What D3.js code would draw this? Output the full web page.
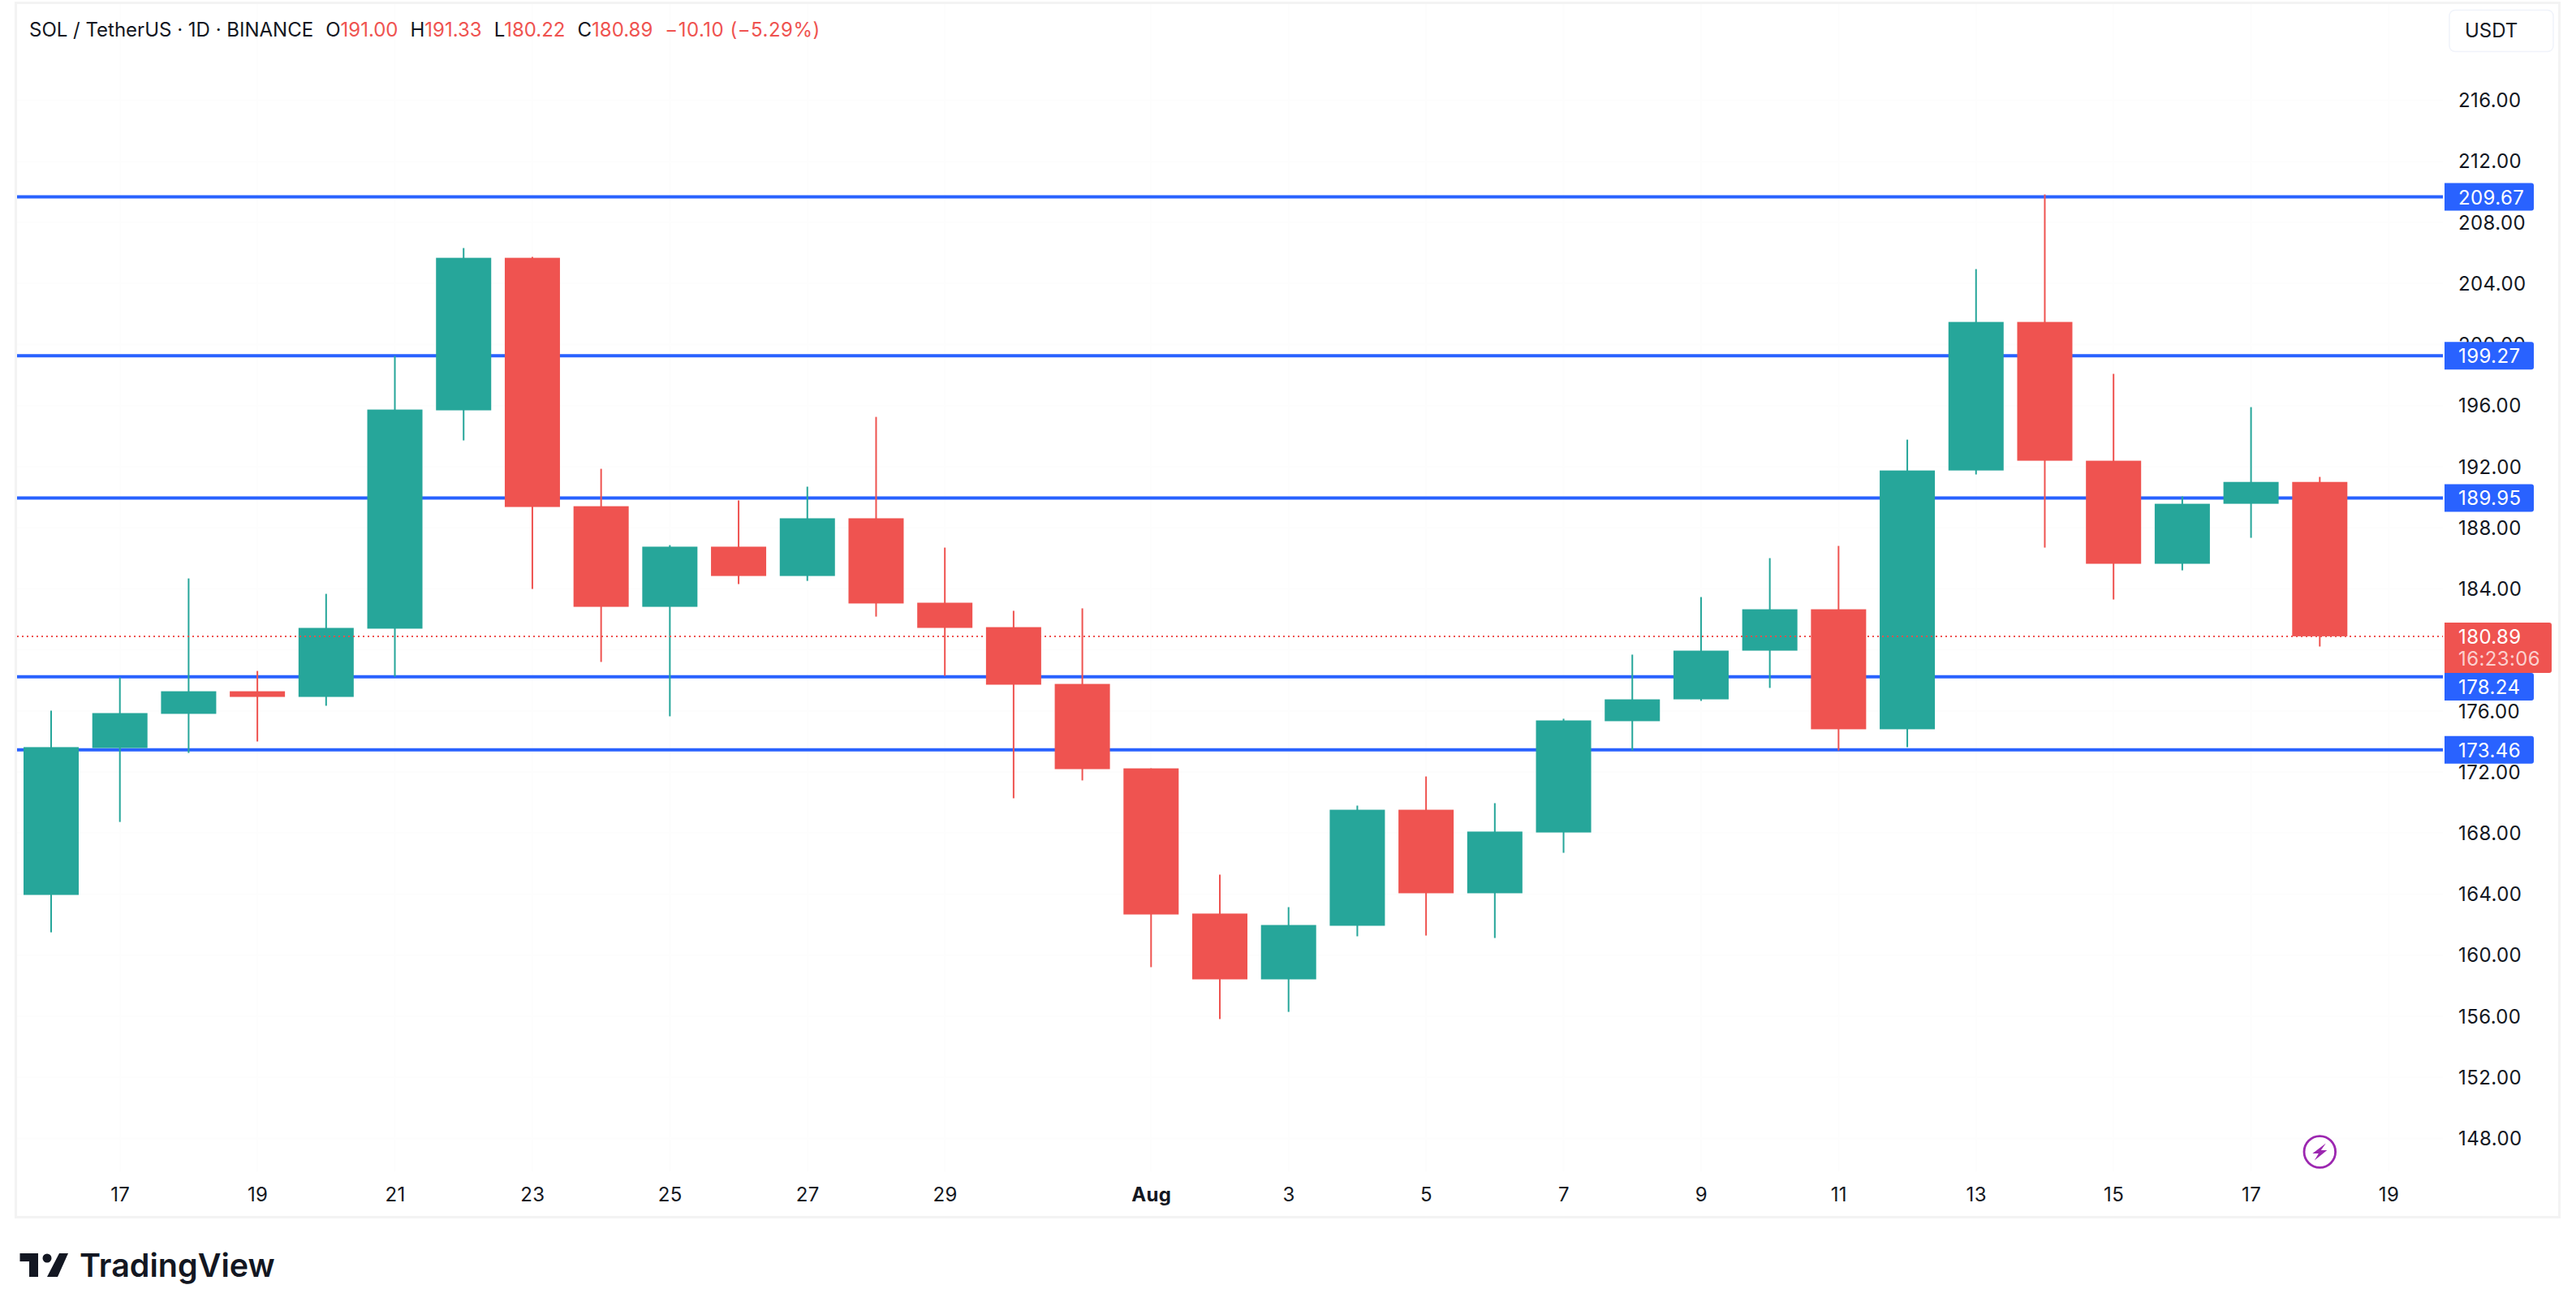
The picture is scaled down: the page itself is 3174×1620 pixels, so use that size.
<!DOCTYPE html>
<html>
<head>
<meta charset="utf-8">
<script src="https://cdn.jsdelivr.net/npm/d3@7"></script>
<style>
  html, body { margin: 0; padding: 0; background: #fff; }
  text { font-family: Inter, "Noto Sans", sans-serif; fill: #131722; }
  .tick text { font-size: 24px; letter-spacing: 0.4px; }
  .tick line, .domain { display: none; }
</style>
</head>
<body>
<div id="canvas"></div>
<script>
/*
 * Chart values
 *
 */
const dates = [
  '2025-07-16', '2025-07-17', '2025-07-18', '2025-07-19', '2025-07-20', '2025-07-21', '2025-07-22',
  '2025-07-23', '2025-07-24', '2025-07-25', '2025-07-26', '2025-07-27', '2025-07-28', '2025-07-29',
  '2025-07-30', '2025-07-31', '2025-08-01', '2025-08-02', '2025-08-03', '2025-08-04', '2025-08-05',
  '2025-08-06', '2025-08-07', '2025-08-08', '2025-08-09', '2025-08-10', '2025-08-11', '2025-08-12',
  '2025-08-13', '2025-08-14', '2025-08-15', '2025-08-16', '2025-08-17', '2025-08-18'
];
const opens = [
  163.95, 173.57, 175.81, 177.29, 176.92, 181.39, 195.69,
  205.68, 189.41, 182.82, 186.76, 184.84, 188.62, 183.09,
  181.49, 177.77, 172.24, 162.73, 158.42, 161.93, 169.53,
  164.06, 168.04, 175.33, 176.76, 179.95, 182.66, 174.80,
  191.75, 201.48, 192.39, 185.64, 189.57, 191.00
];
const highs = [
  176.02, 178.20, 184.68, 178.62, 183.67, 199.25, 206.32,
  205.74, 191.86, 186.86, 189.79, 190.69, 195.26, 186.70,
  182.56, 182.72, 172.24, 165.28, 163.15, 169.80, 171.71,
  169.96, 175.49, 179.69, 183.46, 186.01, 186.81, 193.77,
  204.94, 209.83, 198.08, 190.05, 195.90, 191.33
];
const lows = [
  161.50, 168.73, 173.25, 174.00, 176.34, 178.25, 193.72,
  183.99, 179.21, 175.65, 184.31, 184.52, 182.18, 178.30,
  170.28, 171.45, 159.22, 155.82, 156.29, 161.24, 161.29,
  161.13, 166.71, 173.41, 176.66, 177.51, 173.41, 173.63,
  191.49, 186.70, 183.30, 185.21, 187.34, 180.22
];
const closes = [
  173.63, 175.86, 177.29, 176.92, 181.44, 195.74, 205.68,
  189.36, 182.82, 186.76, 184.84, 188.62, 183.04, 181.44,
  177.72, 172.19, 162.67, 158.42, 161.98, 169.53, 164.06,
  168.10, 175.38, 176.76, 179.95, 182.66, 174.80, 191.75,
  201.48, 192.39, 185.64, 189.57, 191.00, 180.89
];
const levels = [209.67, 199.27, 189.95, 178.24, 173.46];
const priceTicks = [216, 212, 208, 204, 200, 196, 192, 188, 184, 180, 176, 172, 168, 164, 160, 156, 152, 148];
const dateTicks = [
  '2025-07-17', '2025-07-19', '2025-07-21', '2025-07-23', '2025-07-25', '2025-07-27', '2025-07-29',
  '2025-08-01', '2025-08-03', '2025-08-05', '2025-08-07', '2025-08-09', '2025-08-11', '2025-08-13',
  '2025-08-15', '2025-08-17', '2025-08-19'
];
const lastPrice = 180.89;
const countdown = '16:23:06';
const headerTitle = 'SOL / TetherUS · 1D · BINANCE';
const headerChange = '−10.10 (−5.29%)';

const color = {
  up: '#26a69a',
  down: '#ef5350',
  level: '#2962ff',
  frame: '#f3f3f3',
  grid: '#fdfdfd',
  ink: '#131722',
  bolt: '#9c27b0'
};
const svgWidth = 3174,
  svgHeight = 1620,
  plotLeft = 21,
  plotRight = 3010,
  bodyWidth = 68;

const parseDay = d3.utcParse('%Y-%m-%d');

/*
 * Scales
 *
 */
const xScale = d3.scaleUtc()
  .domain([parseDay('2025-07-16'), parseDay('2025-08-19')])
  .range([63, 2943]);

const yScale = d3.scaleLinear()
  .domain([216, 148])
  .range([123.5, 1402.5]);

const candles = dates.map((d, i) => ({
  date: parseDay(d),
  open: opens[i],
  high: highs[i],
  low: lows[i],
  close: closes[i]
}));
const candleColor = (d) => d.close >= d.open ? color.up : color.down;

const svg = d3.select('#canvas').append('svg')
  .attr('width', svgWidth)
  .attr('height', svgHeight)
  .style('display', 'block');

// outer frame
svg.append('rect')
  .attr('x', 19.5)
  .attr('y', 3.5)
  .attr('width', 3134)
  .attr('height', 1496)
  .attr('fill', 'none')
  .attr('stroke', color.frame)
  .attr('stroke-width', 3);

// very faint grid
svg.append('g').selectAll('line')
  .data(dateTicks)
  .enter().append('line')
  .attr('x1', (d) => xScale(parseDay(d)))
  .attr('x2', (d) => xScale(parseDay(d)))
  .attr('y1', 5)
  .attr('y2', 1443)
  .attr('stroke', color.grid)
  .attr('stroke-width', 2);
svg.append('g').selectAll('line')
  .data(priceTicks)
  .enter().append('line')
  .attr('x1', plotLeft)
  .attr('x2', plotRight)
  .attr('y1', (d) => yScale(d))
  .attr('y2', (d) => yScale(d))
  .attr('stroke', color.grid)
  .attr('stroke-width', 2);

/*
 * Axes
 *
 */
svg.append('g')
  .attr('transform', `translate(3012,0.5)`)
  .call(d3.axisRight(yScale).tickValues(priceTicks).tickSize(0).tickPadding(17).tickFormat(d3.format('.2f')));

const timeAxis = svg.append('g')
  .attr('transform', `translate(0,1448)`)
  .call(d3.axisBottom(xScale)
    .tickValues(dateTicks.map(parseDay))
    .tickSize(0)
    .tickPadding(15)
    .tickFormat((d) => d.getUTCDate() === 1 ? d3.utcFormat('%b')(d) : d.getUTCDate()));
timeAxis.selectAll('text')
  .style('font-weight', (d) => d.getUTCDate() === 1 ? 700 : 400);

/*
 * Horizontal levels sit under the candles
 *
 */
svg.append('g').selectAll('line')
  .data(levels)
  .enter().append('line')
  .attr('x1', plotLeft)
  .attr('x2', plotRight)
  .attr('y1', (d) => yScale(d))
  .attr('y2', (d) => yScale(d))
  .attr('stroke', color.level)
  .attr('stroke-width', 4);

/*
 * Candles
 *
 */
const candleGroup = svg.append('g');
candleGroup.selectAll('.wick')
  .data(candles)
  .enter().append('rect')
  .attr('class', 'wick')
  .attr('x', (d) => xScale(d.date) - 1)
  .attr('width', 2)
  .attr('y', (d) => yScale(d.high))
  .attr('height', (d) => yScale(d.low) - yScale(d.high))
  .attr('fill', candleColor);
candleGroup.selectAll('.body')
  .data(candles)
  .enter().append('rect')
  .attr('class', 'body')
  .attr('x', (d) => xScale(d.date) - bodyWidth / 2)
  .attr('width', bodyWidth)
  .attr('y', (d) => yScale(Math.max(d.open, d.close)))
  .attr('height', (d) => Math.abs(yScale(d.open) - yScale(d.close)))
  .attr('fill', candleColor);

// dotted last price line goes over the candles
svg.append('line')
  .attr('x1', plotLeft)
  .attr('x2', plotRight)
  .attr('y1', yScale(lastPrice))
  .attr('y2', yScale(lastPrice))
  .attr('stroke', color.down)
  .attr('stroke-width', 2)
  .attr('stroke-dasharray', '2 4');

/*
 * Price labels on the right, the 178.24 one gets pushed down by the red one
 *
 */
function rightRounded(x, y, w, h, r) {
  return `M${x},${y}H${x + w - r}Q${x + w},${y} ${x + w},${y + r}V${y + h - r}Q${x + w},${y + h} ${x + w - r},${y + h}H${x}Z`;
}

const lastY = yScale(lastPrice);
svg.append('path')
  .attr('d', rightRounded(3012, lastY - 17, 132, 62, 3))
  .attr('fill', color.down);
svg.append('text')
  .attr('x', 3029)
  .attr('y', lastY + 9)
  .style('font-size', '24px')
  .style('letter-spacing', '0.4px')
  .style('fill', '#fff')
  .text(d3.format('.2f')(lastPrice));
svg.append('text')
  .attr('x', 3029)
  .attr('y', lastY + 36)
  .style('font-size', '24px')
  .style('letter-spacing', '0.4px')
  .style('fill', '#fbd0cf')
  .text(countdown);

const levelLabel = svg.append('g').selectAll('g')
  .data(levels)
  .enter().append('g')
  .attr('transform', (d) => {
    const y = yScale(d);
    // keep clear of the red label
    const c = (y > lastY && y - 17 < lastY + 45) ? lastY + 45 + 17 : y;
    return `translate(3012,${c})`;
  });
levelLabel.append('path')
  .attr('d', rightRounded(0, -17, 110, 34, 3))
  .attr('fill', color.level);
levelLabel.append('text')
  .attr('x', 17)
  .attr('y', 9)
  .style('font-size', '24px')
  .style('letter-spacing', '0.4px')
  .style('fill', '#fff')
  .text(d3.format('.2f'));

/*
 * Header
 *
 */
const last = candles[candles.length - 1];
const f2 = d3.format('.2f');
const header = svg.append('text')
  .attr('x', 36)
  .attr('y', 45)
  .style('font-size', '24px');
header.append('tspan').text(headerTitle);
[['O', last.open], ['H', last.high], ['L', last.low], ['C', last.close]].forEach((item) => {
  header.append('tspan').attr('dx', 15).text(item[0]);
  header.append('tspan').style('fill', color.down).text(f2(item[1]));
});
header.append('tspan').attr('dx', 15).style('fill', color.down).style('letter-spacing', '0.5px').text(headerChange);

// USDT box
svg.append('rect')
  .attr('x', 3018)
  .attr('y', 12.5)
  .attr('width', 128)
  .attr('height', 51)
  .attr('rx', 7)
  .attr('fill', '#fff')
  .attr('stroke', '#f0f3fa')
  .attr('stroke-width', 1.5);
svg.append('text')
  .attr('x', 3037)
  .attr('y', 46)
  .style('font-size', '24px')
  .text('USDT');

/*
 * Lightning badge under the last candle
 *
 */
const badge = svg.append('g')
  .attr('transform', `translate(${xScale(last.date)},1419)`);
badge.append('circle')
  .attr('r', 19.3)
  .attr('fill', '#fff')
  .attr('stroke', color.bolt)
  .attr('stroke-width', 2.8);
badge.append('path')
  .attr('d', 'M7.5,-10.5L-9,2H-1.5L-6.5,10.5L9,-2H1.5Z')
  .attr('fill', color.bolt);

/*
 * TradingView logo
 *
 */
const logo = svg.append('g').attr('fill', color.ink);
logo.append('path').attr('d', 'M24.5,1544H47V1573H36V1554H24.5Z');
logo.append('circle').attr('cx', 58).attr('cy', 1550).attr('r', 5.5);
logo.append('path').attr('d', 'M73,1544H84L71,1573H58Z');
svg.append('text')
  .attr('x', 98)
  .attr('y', 1573)
  .style('font-size', '39.5px')
  .style('font-weight', 600)
  .text('TradingView');
</script>
</body>
</html>
